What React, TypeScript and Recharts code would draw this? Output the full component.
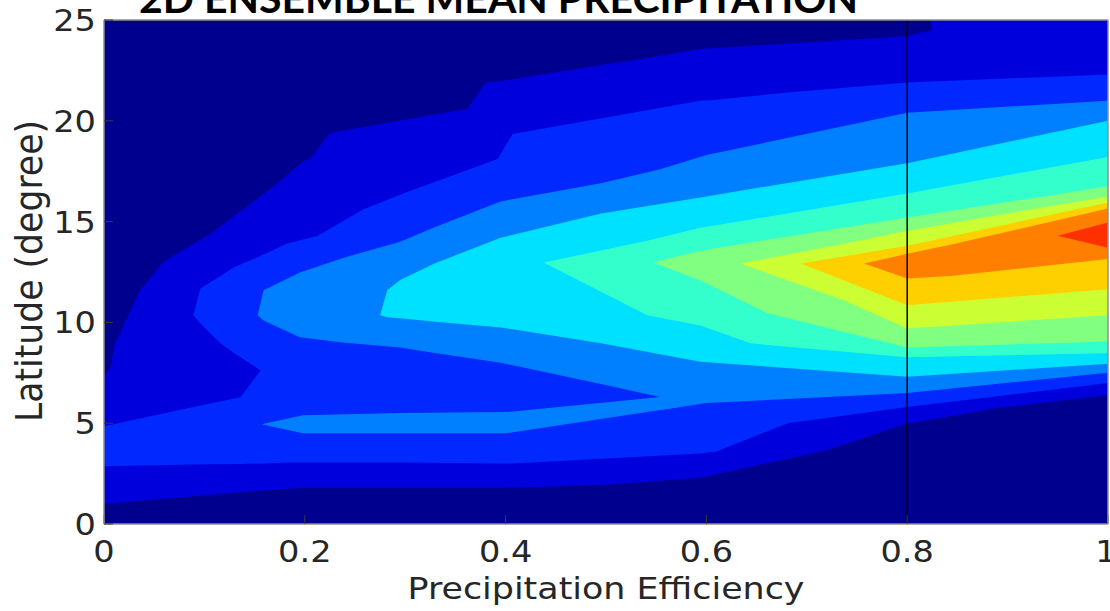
import React from 'react';
import { ComposedChart, Area, XAxis, YAxis, CartesianGrid, ReferenceLine } from 'recharts';

// jet fill colour for each contour band, lowest first
const levelColors = [
  '#00008F', '#0000DC', '#0028FF', '#0080FF', '#00E0FF', '#33FFCC',
  '#80FF80', '#CCFF33', '#FFD000', '#FF8000', '#FF3000',
];

const xTicks = [0, 0.2, 0.4, 0.6, 0.8, 1];
const yTicks = [0, 5, 10, 15, 20, 25];

// rows: [efficiency, lower latitude, upper latitude] of the region at or above each level
const level1 = [
  [0, 0.99, 7.4], [0.006, 1.02, 7.7], [0.011, 1.05, 8.96], [0.016, 1.08, 9.46],
  [0.036, 1.15, 11.6], [0.059, 1.25, 13.0], [0.106, 1.45, 14.4], [0.168, 1.7, 16.7],
  [0.199, 1.8, 18.0], [0.205, 1.8, 18.1], [0.225, 1.8, 19.4], [0.362, 1.8, 20.6],
  [0.38, 1.8, 21.9], [0.4, 1.8, 22.0], [0.5, 1.95, 22.8], [0.527, 2.05, 23.0],
  [0.594, 2.3, 23.56], [0.72, 3.66, 23.95], [0.8, 5.0, 24.2], [0.811, 5.08, 24.35],
  [0.824, 5.18, 24.45], [0.824, 5.18, 25], [0.89, 5.75, 25], [1, 6.4, 25],
];

// level 2 splits into a lower lobe and an upper tongue left of x = 0.156;
// the lobe runs a little past the join so the two pieces overlap
const level2Low = [
  [0, 2.87, 4.85], [0.089, 2.95, 5.8], [0.136, 2.98, 6.29], [0.156, 3.0, 7.62],
  [0.175, 3.04, 8.6],
];
const level2 = [
  [0.089, 10.35, 10.35], [0.096, 9.95, 11.68], [0.116, 8.96, 12.3], [0.129, 8.5, 12.72],
  [0.156, 7.62, 13.3], [0.156, 3.0, 13.3], [0.182, 3.05, 13.9], [0.213, 3.05, 14.3],
  [0.258, 3.05, 15.6], [0.298, 3.05, 16.4], [0.392, 3.0, 18.1], [0.407, 3.0, 19.35],
  [0.594, 3.5, 21.0], [0.61, 3.6, 21.05], [0.681, 5.0, 21.4], [0.8, 5.8, 21.9],
  [1, 7.0, 22.3],
];

// level 3 has a thin lower band that joins the main tongue at x = 0.554
const level3Low = [
  [0.157, 4.95, 4.95], [0.198, 4.5, 5.4], [0.295, 4.5, 5.5], [0.4, 4.5, 5.55],
  [0.554, 5.65, 6.3], [0.575, 5.81, 6.8],
];
const level3 = [
  [0.153, 10.35, 10.35], [0.159, 10.1, 11.6], [0.195, 9.26, 12.47], [0.238, 9.0, 13.2],
  [0.295, 8.76, 14.0], [0.328, 8.5, 14.7], [0.395, 8.0, 16.0], [0.495, 6.95, 16.9],
  [0.554, 6.3, 17.6], [0.554, 5.65, 17.6], [0.6, 6.0, 18.3], [0.8, 6.5, 20.4],
  [1, 7.5, 21.0],
];

const level4 = [
  [0.275, 10.35, 10.35], [0.282, 10.25, 11.6], [0.295, 10.2, 12.1], [0.328, 10.05, 12.9],
  [0.395, 9.75, 14.2], [0.495, 8.96, 15.4], [0.594, 8.05, 16.2], [0.8, 7.3, 17.9],
  [1, 7.95, 20.0],
];
const level5 = [
  [0.438, 12.97, 12.97], [0.541, 10.35, 14.05], [0.594, 9.85, 14.7], [0.644, 8.96, 15.1],
  [0.8, 8.27, 16.4], [1, 8.47, 18.2],
];
const level6 = [
  [0.547, 12.97, 12.97], [0.594, 12.08, 13.56], [0.661, 10.45, 14.1], [0.8, 8.76, 15.2],
  [1, 9.05, 16.75],
];
const level7 = [
  [0.634, 12.92, 12.92], [0.737, 11.1, 13.9], [0.8, 9.7, 14.55], [1, 10.35, 16.25],
];
const level8 = [
  [0.694, 12.92, 12.92], [0.8, 10.85, 13.8], [1, 11.65, 15.95],
];
const level9 = [
  [0.757, 12.92, 12.92], [0.8, 12.18, 13.4], [0.843, 12.3, 13.85], [1, 13.15, 15.65],
];
const level10 = [
  [0.95, 14.3, 14.3], [1, 13.7, 14.95],
];

const bands = [
  { pts: level1, level: 1 },
  { pts: level2Low, level: 2 },
  { pts: level2, level: 2 },
  { pts: level3Low, level: 3 },
  { pts: level3, level: 3 },
  { pts: level4, level: 4 },
  { pts: level5, level: 5 },
  { pts: level6, level: 6 },
  { pts: level7, level: 7 },
  { pts: level8, level: 8 },
  { pts: level9, level: 9 },
  { pts: level10, level: 10 },
];

const toRows = (pts: number[][]) => pts.map(([x, lo, hi]) => ({ x, range: [lo, hi] }));

const FONT = 'DejaVu Sans';
const INK = '#262626';
const FRAME = '#8f8f8f';
const TICK = '#3a3a3a';

const XTick = (props: any) => {
  const { x, y, payload } = props;
  return (
    <g transform={`translate(${x},${y + 38})`}>
      <text transform="scale(1.12,1)" textAnchor="middle" fontSize={30} fontFamily={FONT} fill={INK}>
        {String(payload.value)}
      </text>
    </g>
  );
};

const YTick = (props: any) => {
  const { x, y, payload } = props;
  return (
    <g transform={`translate(${x - 8},${y + 11})`}>
      <text transform="scale(1.12,1)" textAnchor="end" fontSize={30} fontFamily={FONT} fill={INK}>
        {String(payload.value)}
      </text>
    </g>
  );
};

const XTitle = () => (
  <text x={606} y={599} textAnchor="middle" fontSize={31} fontFamily={FONT} fill={INK}
    textLength={397} lengthAdjust="spacingAndGlyphs">
    Precipitation Efficiency
  </text>
);

const YTitle = () => (
  <text x={42} y={271} transform="rotate(-90 42 271)" textAnchor="middle" fontSize={38}
    fontFamily={FONT} fill={INK} textLength={302} lengthAdjust="spacingAndGlyphs">
    Latitude (degree)
  </text>
);

const Heading = () => (
  <text x={139} y={13} fontSize={40} fontWeight="bold" fontFamily="Lato" fill="#000"
    textLength={719} lengthAdjust="spacingAndGlyphs">
    2D ENSEMBLE MEAN PRECIPITATION
  </text>
);

export default function App() {
  return (
    <div style={{ position: 'absolute', left: 0, top: 0, width: 1110, height: 611, background: '#fff' }}>
      <ComposedChart width={1110} height={611} margin={{ top: 19, right: 1, bottom: 0, left: 0 }}>
        <CartesianGrid horizontal={false} vertical={false} fill={levelColors[0]} fillOpacity={1} stroke="none" />
        <XAxis
          dataKey="x" type="number" domain={[0, 1]} ticks={xTicks} allowDataOverflow
          height={87} tickSize={-9} tickMargin={9} tick={<XTick />}
          axisLine={{ stroke: FRAME, strokeWidth: 1.5 }} tickLine={{ stroke: TICK }}
          label={<XTitle />}
        />
        <XAxis
          xAxisId="top" orientation="top" type="number" domain={[0, 1]} ticks={xTicks}
          height={1} tickSize={-9} tick={false}
          axisLine={{ stroke: FRAME, strokeWidth: 1.5 }} tickLine={{ stroke: TICK }}
          label={<Heading />}
        />
        <YAxis
          type="number" domain={[0, 25]} ticks={yTicks} allowDataOverflow
          width={104} tickSize={-9} tickMargin={9} tick={<YTick />}
          axisLine={{ stroke: FRAME, strokeWidth: 1.5 }} tickLine={{ stroke: TICK }}
          label={<YTitle />}
        />
        <YAxis
          yAxisId="right" orientation="right" type="number" domain={[0, 25]} ticks={yTicks}
          width={1} tickSize={-9} tick={false}
          axisLine={{ stroke: FRAME, strokeWidth: 1.5 }} tickLine={{ stroke: TICK }}
        />
        {bands.map((b, i) => (
          <Area
            key={i}
            data={toRows(b.pts)}
            dataKey="range"
            type="linear"
            stroke="none"
            fill={levelColors[b.level]}
            fillOpacity={1}
            dot={false}
            activeDot={false}
            isAnimationActive={false}
          />
        ))}
        <ReferenceLine x={0.8} stroke="#000" strokeWidth={1.5} />
      </ComposedChart>
    </div>
  );
}
